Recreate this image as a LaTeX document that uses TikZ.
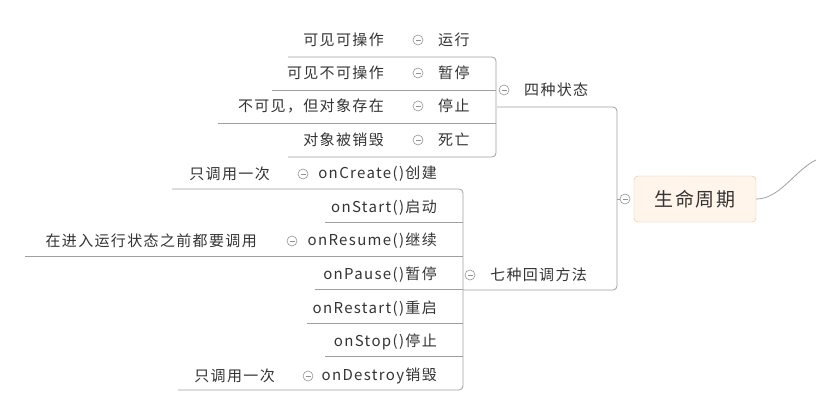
\documentclass[tikz,border=0pt]{standalone}
\usepackage{fontspec}
\setmainfont{Noto Sans CJK SC}[LetterSpace=9]
\begin{document}
\begin{tikzpicture}[x=1pt,y=-1pt,
  ln/.style={draw=gray!75,line width=0.8pt,rounded corners=4pt},
  tx/.style={inner sep=0,text=black!80,font=\fontsize{15}{16}\selectfont},
  mk/.style={circle,draw=gray!85,line width=0.6pt,minimum size=10pt,inner sep=0,
    path picture={\draw[gray!85,line width=0.6pt] (path picture bounding box.west)++(2.5pt,0) -- ++(5pt,0);}}]
\useasboundingbox (0,0) rectangle (816,406);
% root
\node[draw=brown!60!orange!50,fill=orange!8,rounded corners=4pt,minimum width=122pt,minimum height=46pt,font=\fontsize{19}{21}\selectfont,text=black!80] (root) at (695,199) {生命周期};
\node[mk] (rm) at (625,199) {};
\coordinate (rc) at (816,160);
\draw[ln] (root.east) .. controls (780,199) and (795,170) .. (rc);
\coordinate (j) at (617,199);
\draw[ln] (rm.west) -- (j);
% trunk
\coordinate (g1) at (497,107); \coordinate (g1c) at (617,107);
\coordinate (g2) at (463,290); \coordinate (g2c) at (617,290);
\draw[ln] (g1) -- (g1c) -- (g2c) -- (g2);
% group 1
\node[mk] (m1) at (504,90) {};
\node[tx,anchor=west] (s1) at (524,90) {四种状态};
\draw[ln] (288,57) -- (496,57) -- (496,157) -- (288,157);
\draw[ln] (272,90) -- (496,90);
\draw[ln] (218,123) -- (496,123);
\foreach \y/\a/\b/\n in {40/运行/可见可操作/a,73/暂停/可见不可操作/b,106/停止/{不可见，但对象存在}/c,140/死亡/对象被销毁/d}{
  \node[mk] (k\n) at (418,\y) {};
  \node[tx,anchor=west] (c\n) at (438,\y) {\a};
  \node[tx,anchor=east] (d\n) at (384,\y) {\b};
}
% group 2
\node[mk] (m2) at (470,275) {};
\node[tx,anchor=west] (s2) at (490,275) {七种回调方法};
\draw[ln] (172,189) -- (463,189) -- (463,390) -- (178,390);
\draw[ln] (325,222) -- (463,222);
\draw[ln] (25,256) -- (463,256);
\draw[ln] (315,289) -- (463,289);
\draw[ln] (307,323) -- (463,323);
\draw[ln] (325,356) -- (463,356);
\node[tx,anchor=east] (e1) at (437,174) {onCreate()创建};
\node[tx,anchor=east] (e2) at (437,208) {onStart()启动};
\node[tx,anchor=east] (e3) at (437,241) {onResume()继续};
\node[tx,anchor=east] (e4) at (437,275) {onPause()暂停};
\node[tx,anchor=east] (e5) at (437,309) {onRestart()重启};
\node[tx,anchor=east] (e6) at (437,342) {onStop()停止};
\node[tx,anchor=east] (e7) at (437,376) {onDestroy销毁};
\node[mk] (f1) at (303,174) {}; \node[tx,anchor=east] (h1) at (270,174) {只调用一次};
\node[mk] (f3) at (292,241) {}; \node[tx,anchor=east] (h3) at (257,241) {在进入运行状态之前都要调用};
\node[mk] (f7) at (308,376) {}; \node[tx,anchor=east] (h7) at (275,376) {只调用一次};
\end{tikzpicture}
\end{document}
